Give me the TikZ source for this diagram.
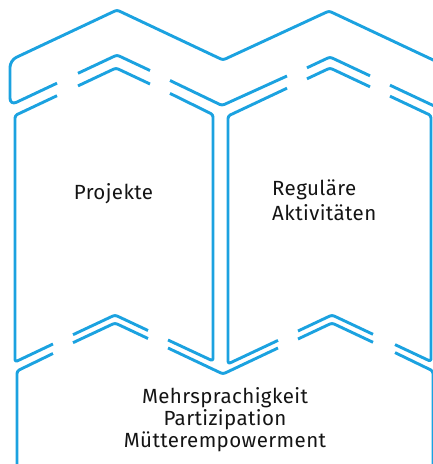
\documentclass[tikz,border=0pt]{standalone}
\usepackage{fontspec}
\setmainfont[LetterSpace=2]{Fira Sans}
\definecolor{lineblue}{RGB}{27,162,224}
\definecolor{txtcol}{RGB}{20,20,20}
\begin{document}
\begin{tikzpicture}[x=1pt,y=-1pt,
  outline/.style={draw=lineblue, line width=2.9pt, line join=round, rounded corners=2.5pt},
  txt/.style={font=\fontsize{20.5}{25}\selectfont, text=txtcol, inner sep=0pt},
  txtb/.style={font=\fontsize{20.5}{22}\selectfont, text=txtcol, inner sep=0pt}]
\useasboundingbox (0,0) rectangle (433,464);
\clip (0,0) rectangle (433,464);
% top slab
\draw[outline] (57,83.2) [rounded corners=7pt] -- (10,105.3) -- (10,60.3) [rounded corners=2.5pt] -- (117,10) -- (223,60) -- (329,11) -- (450,67.9) -- (450,113.4) -- (390,85.2);
\draw[outline] (78,73.3) -- (117,55) -- (150,70.5);
\draw[outline] (170,80.5) -- (222,105.5) -- (287,76);
\draw[outline] (307,67.8) -- (330,57) -- (370,75.8);
% left box
\draw[outline] (57,95.7) -- (15,115.5) -- (15,362) -- (53,344);
\draw[outline] (78,85.9) -- (116,68) -- (150,84);
\draw[outline] (170,93.4) -- (213,114.6) -- (213,361) -- (168,340);
\draw[outline] (73,334.7) -- (115,315) -- (148,330.5);
% right box
\draw[outline] (287,88.2) -- (228,116) -- (228,363.9) -- (278,340.4);
\draw[outline] (307,78.8) -- (330,68) -- (370,86.8);
\draw[outline] (390,96.2) -- (431,115.5) -- (431,361.5) -- (395,344.6);
\draw[outline] (298,331) -- (332,315) -- (373,334.3);
% bottom slab
\draw[outline] (53,353.5) -- (17,371) -- (17,480);
\draw[outline] (73,342.7) -- (115,323) -- (148,338.5);
\draw[outline] (168,348) -- (223,374) -- (278,348);
\draw[outline] (298,339) -- (332,323) -- (373,342.3);
\draw[outline] (395,352.6) -- (433,371) -- (433,480);
% texts
\node[txt, anchor=base] (proj) at (113.5,199) {Projekte};
\node[txt, align=left, anchor=base west] (regu) at (272,220) {Reguläre\\Aktivitäten};
\node[txtb, align=center, anchor=base] (basis) at (225,447) {Mehrsprachigkeit\\Partizipation\\Mütterempowerment};
\end{tikzpicture}
\end{document}
